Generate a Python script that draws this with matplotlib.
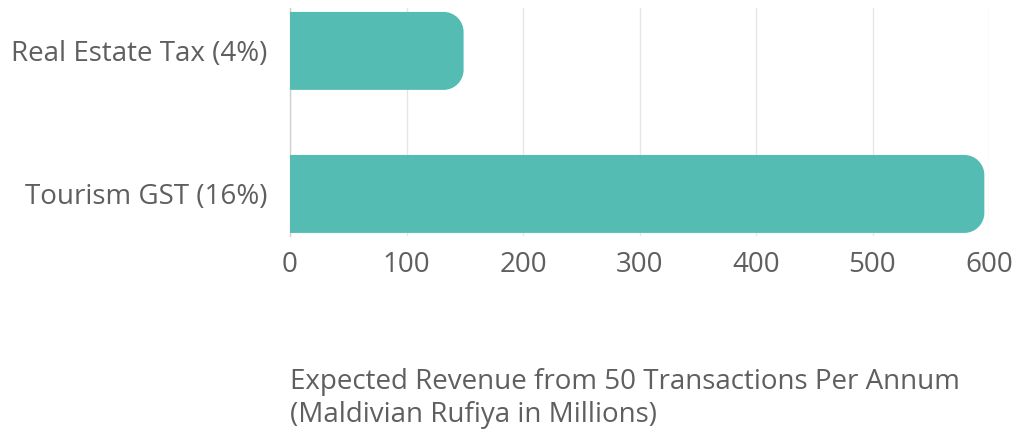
import matplotlib
matplotlib.use("Agg")
import matplotlib.pyplot as plt
from matplotlib.path import Path
from matplotlib.patches import PathPatch

categories = ["Real Estate Tax (4%)", "Tourism GST (16%)"]
values = [149, 596]
xticks = [0, 100, 200, 300, 400, 500, 600]
xlabel_lines = ["Expected Revenue from 50 Transactions Per Annum", "(Maldivian Rufiya in Millions)"]

BAR_COLOR = "#55bcb4"
TEXT_COLOR = "#5f5f5f"
FONT = ["Open Sans", "DejaVu Sans"]
FS = 20

W, H, DPI = 1017, 437, 100
fig = plt.figure(figsize=(W / DPI, H / DPI), dpi=DPI)
ax = fig.add_axes([290 / W, 1 - 236 / H, (989 - 290) / W, (236 - 8) / H])

ypos = list(range(len(categories)))
bars = ax.barh(ypos, values, height=0.545, color=BAR_COLOR, zorder=2)
ax.set_xlim(0, 600)
ax.set_ylim(1.294, -0.30)

ax.set_yticks(ypos)
ax.set_yticklabels(categories, fontfamily=FONT, fontsize=FS, color=TEXT_COLOR)
ax.set_xticks(xticks)
ax.set_xticklabels([str(t) for t in xticks], fontfamily=FONT, fontsize=FS, color=TEXT_COLOR)
ax.tick_params(axis="both", length=0)
ax.tick_params(axis="x", pad=10.5)
ax.tick_params(axis="y", pad=16)

ax.grid(axis="x", color="#e6e6e6", linewidth=1, zorder=0)
for s in ["top", "right", "bottom"]:
    ax.spines[s].set_visible(False)
ax.spines["left"].set_color("#d0d0d0")
ax.spines["left"].set_linewidth(1)
ax.spines["left"].set_zorder(3)

# Replace rectangles with right-rounded shapes (in display pixels)
fig.canvas.draw()
r = 20
for b in bars:
    bb = b.get_window_extent()
    x0, y0, x1, y1 = bb.x0, bb.y0, bb.x1, bb.y1
    rr = min(r, (y1 - y0) / 2, (x1 - x0))
    k = 0.5523 * rr
    verts = [
        (x0, y0),
        (x1 - rr, y0),
        (x1 - rr + k, y0), (x1, y0 + rr - k), (x1, y0 + rr),
        (x1, y1 - rr),
        (x1, y1 - rr + k), (x1 - rr + k, y1), (x1 - rr, y1),
        (x0, y1),
        (x0, y0),
    ]
    codes = [Path.MOVETO, Path.LINETO,
             Path.CURVE4, Path.CURVE4, Path.CURVE4,
             Path.LINETO,
             Path.CURVE4, Path.CURVE4, Path.CURVE4,
             Path.LINETO, Path.CLOSEPOLY]
    patch = PathPatch(Path(verts, codes), facecolor=BAR_COLOR, edgecolor="none",
                      transform=None, zorder=2)
    fig.add_artist(patch)
    b.set_visible(False)

fig.text(290 / W, 1 - 368 / H, "\n".join(xlabel_lines), ha="left", va="top",
         fontfamily=FONT, fontsize=FS, color=TEXT_COLOR, linespacing=1.24)

fig.savefig("out.png", dpi=DPI)
